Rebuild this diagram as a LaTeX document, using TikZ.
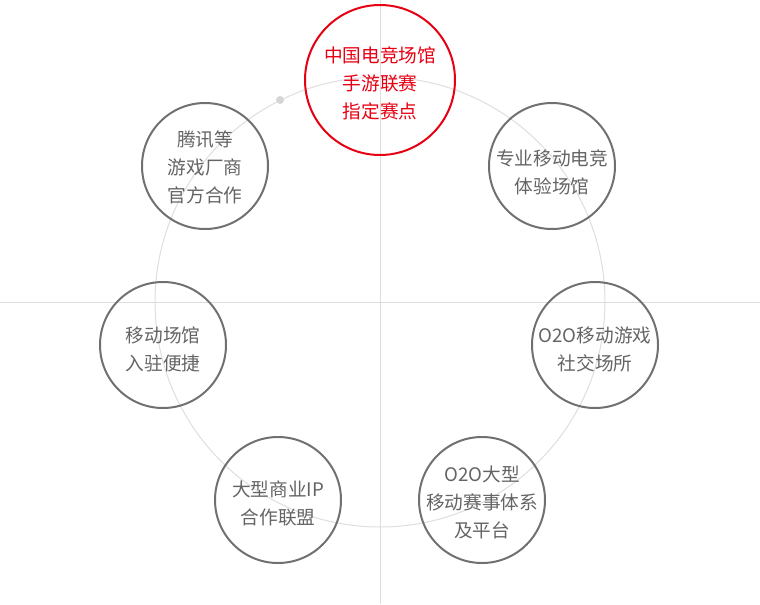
\documentclass[tikz,border=0pt]{standalone}
\usepackage{fontspec}
\setmainfont{Noto Sans CJK SC}
\definecolor{hubred}{RGB}{230,0,18}
\definecolor{ringgray}{RGB}{112,112,112}
\definecolor{txtgray}{RGB}{100,100,100}
\definecolor{guide}{RGB}{222,222,222}
\tikzstyle{hub} = [draw=hubred, line width=1.5pt, circle, minimum size=112.5pt, inner sep=0pt]
\tikzstyle{sat} = [draw=ringgray, line width=1.5pt, circle, minimum size=94.5pt, inner sep=0pt]
\tikzstyle{lbl} = [txtgray, align=center, font=\fontsize{14pt}{21pt}\selectfont, inner sep=0pt]

\begin{document}
\begin{tikzpicture}[x=0.75pt, y=-0.75pt]
	
	\useasboundingbox (0,0) rectangle (760,604);
	% guide lines and ring
	\coordinate (mid) at (380,302);
	\draw [guide, line width=0.75pt] (0,302) -- (760,302);
	\draw [guide, line width=0.75pt] (380,0) -- (380,604);
	\draw [guide, line width=0.75pt] (mid) circle [radius=225];
	\fill [guide!90!gray] (280,100) circle [radius=4];
	
	% top
	\node [hub] (top) at (380,80){};
	\node [lbl, hubred] (ttop) at (380,83){%
		中国电竞场馆\\手游联赛\\指定赛点
	};
	% right side
	\node [sat] (r1) at (552,166){};
	\node [lbl] (tr1) at (552,172){%
		专业移动电竞\\体验场馆
	};
	\node [sat] (r2) at (595,345){};
	\node [lbl] (tr2) at (595,349){%
		O2O移动游戏\\社交场所
	};
	\node [sat] (r3) at (482,500){};
	\node [lbl] (tr3) at (482,502){%
		O2O大型\\移动赛事体系\\及平台
	};
	% left side
	\node [sat] (l3) at (278,500){};
	\node [lbl] (tl3) at (278,503){%
		大型商业IP\\合作联盟
	};
	\node [sat] (l2) at (163,345){};
	\node [lbl] (tl2) at (163,349){%
		移动场馆\\入驻便捷
	};
	\node [sat] (l1) at (205,166){};
	\node [lbl] (tl1) at (205,167){%
		腾讯等\\游戏厂商\\官方合作
	};
\end{tikzpicture}
\end{document}
